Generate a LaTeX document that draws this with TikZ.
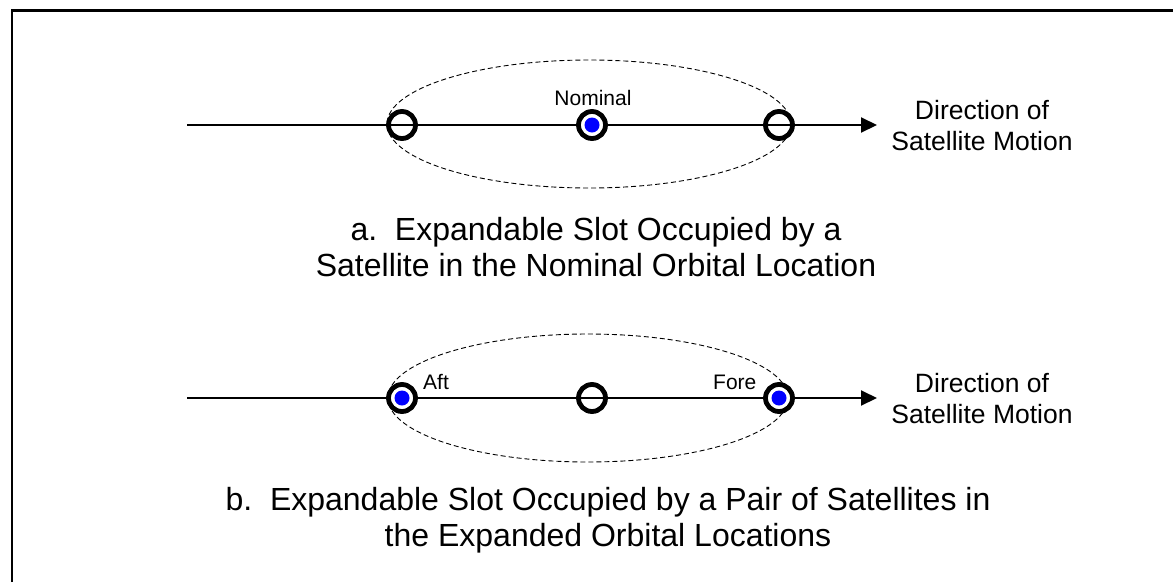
\documentclass[tikz,border=0pt]{standalone}
\usepackage{fontspec}
\setmainfont{Liberation Sans}
\usetikzlibrary{arrows.meta}

\begin{document}
\begin{tikzpicture}[
      x=1pt, y=-1pt,
      slot/.style={circle, draw, line width=4.8pt, minimum size=27pt, inner sep=0pt},
      taken/.style={slot, fill=white},
      sat/.style={circle, fill=blue, minimum size=15pt, inner sep=0pt},
      orbit/.style={line width=2pt, -{Triangle[length=16pt, width=15pt]}},
      zone/.style={draw, line width=0.9pt, dash pattern=on 5pt off 3pt},
      tag/.style={font=\fontsize{21}{25}\selectfont, inner sep=0pt, anchor=base west},
      motion/.style={font=\fontsize{26.5}{31}\selectfont, align=center, inner sep=0pt, anchor=base},
      caption/.style={font=\fontsize{32}{36}\selectfont, align=center, inner sep=0pt, anchor=base}
    ]

    \useasboundingbox (0,0) rectangle (1173,582);
    \draw[line width=2.6pt] (12,582) -- (12,10.7) -- (1173,10.7);

    % a. nominal location
    \draw[zone] (589,124) ellipse (202 and 64);
    \coordinate (a-start) at (187,125);
    \coordinate (a-end) at (877,125);
    \draw[orbit] (a-start) -- (a-end);
    \node[slot] (a-aft) at (402,125) {};
    \node[taken] (a-nom) at (592,125) {};
    \node[sat] (a-sat) at (a-nom) {};
    \node[slot] (a-fore) at (779,125) {};
    \node[tag, anchor=base] (a-label) at (593,105) {Nominal};
    \node[motion] (a-motion) at (982,150) {Direction of\\Satellite Motion};
    \node[caption] (a-caption) at (596,276) {a.\ \ Expandable Slot Occupied by a\\Satellite in the Nominal Orbital Location};

    % b. expanded locations
    \draw[zone] (588,398) ellipse (200 and 64);
    \coordinate (b-start) at (187,398);
    \coordinate (b-end) at (877,398);
    \draw[orbit] (b-start) -- (b-end);
    \node[taken] (b-aft) at (402,398) {};
    \node[sat] (b-aftsat) at (b-aft) {};
    \node[slot] (b-nom) at (592,398) {};
    \node[taken] (b-fore) at (779,398) {};
    \node[sat] (b-foresat) at (b-fore) {};
    \node[tag] (b-aftlabel) at (423,389) {Aft};
    \node[tag] (b-forelabel) at (713,389) {Fore};
    \node[motion] (b-motion) at (982,423) {Direction of\\Satellite Motion};
    \node[caption] (b-caption) at (608,546) {b.\ \ Expandable Slot Occupied by a Pair of Satellites in\\the Expanded Orbital Locations};

  \end{tikzpicture}
\end{document}
